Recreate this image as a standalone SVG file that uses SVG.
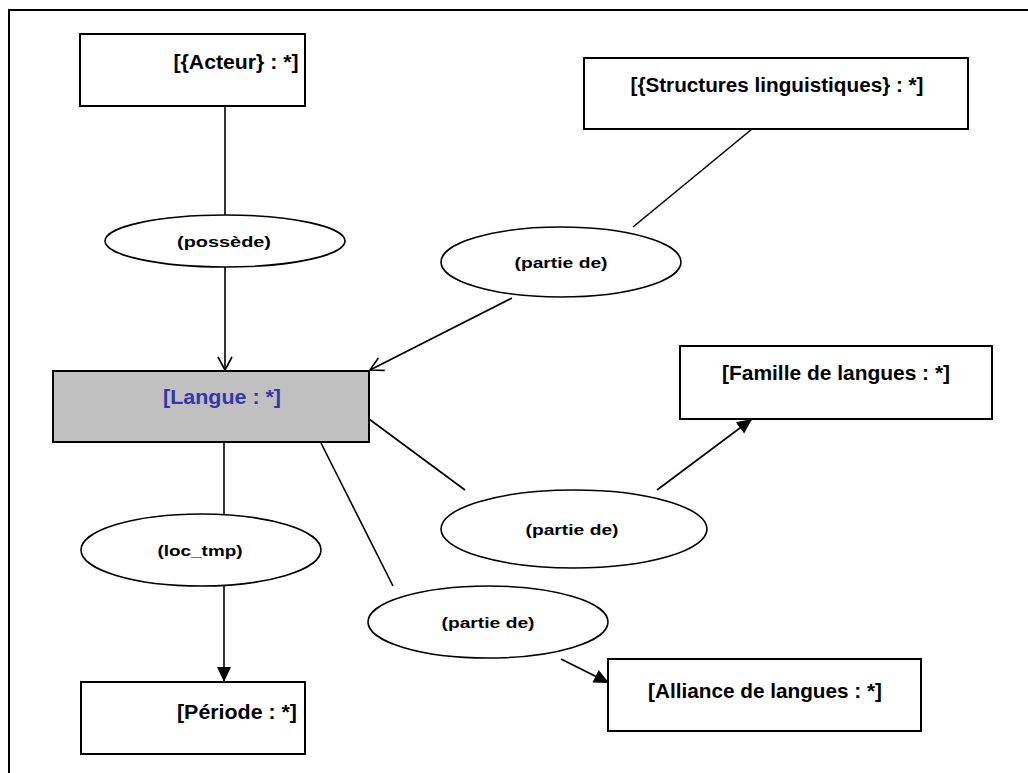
<svg xmlns="http://www.w3.org/2000/svg" width="1028" height="773" viewBox="0 0 1028 773">
<style>
.box{fill:#fff;stroke:#000;stroke-width:2}
.ell{fill:#fff;stroke:#000;stroke-width:1.6}
.t{font-family:"Liberation Sans",Arial,sans-serif;font-weight:bold;font-size:20px;fill:#000;text-anchor:middle}
.s{font-family:"Liberation Sans",Arial,sans-serif;font-weight:bold;font-size:15px;fill:#000;text-anchor:middle}
.c{stroke:#000;stroke-width:1.6;fill:none}
</style>
<defs>
<marker id="open" markerWidth="16" markerHeight="16" refX="14" refY="8" orient="auto" markerUnits="userSpaceOnUse">
<path d="M1,1 L14,8 L1,15" fill="none" stroke="#000" stroke-width="1.6"/>
</marker>
<marker id="fill" markerWidth="16" markerHeight="16" refX="15" refY="7" orient="auto" markerUnits="userSpaceOnUse">
<path d="M0,0 L15,7 L0,14 Z" fill="#000"/>
</marker>
</defs>
<rect width="1028" height="773" fill="#fff"/>
<path d="M9,773 V10 H1030" fill="none" stroke="#000" stroke-width="2"/>

<g id="connectors">
<line class="c" x1="225" y1="106" x2="225" y2="232"/>
<line class="c" x1="225" y1="266" x2="225" y2="370" marker-end="url(#open)"/>
<line class="c" x1="752" y1="129" x2="633" y2="227"/>
<line class="c" x1="512" y1="298" x2="370" y2="370" marker-end="url(#open)"/>
<line class="c" x1="369" y1="419" x2="465" y2="490"/>
<line class="c" x1="657" y1="490" x2="752" y2="419" marker-end="url(#fill)"/>
<line class="c" x1="321" y1="443" x2="393" y2="586"/>
<line class="c" x1="561" y1="659" x2="609" y2="683" marker-end="url(#fill)"/>
<line class="c" x1="224" y1="443" x2="224" y2="514"/>
<line class="c" x1="224" y1="586" x2="224" y2="682" marker-end="url(#fill)"/>
</g>

<g id="acteur">
<rect class="box" x="80" y="34" width="225" height="72"/>
<text class="t" x="236" y="69" textLength="125" lengthAdjust="spacingAndGlyphs">[{Acteur} : *]</text>
</g>
<g id="structures">
<rect class="box" x="584" y="58" width="384" height="71"/>
<text class="t" x="777" y="92" textLength="293" lengthAdjust="spacingAndGlyphs">[{Structures linguistiques} : *]</text>
</g>
<g id="langue">
<rect x="53" y="371" width="316" height="71" fill="#c0c0c0" stroke="#000" stroke-width="2"/>
<text class="t" x="222" y="404" textLength="118" lengthAdjust="spacingAndGlyphs" style="fill:#3535a8">[Langue : *]</text>
</g>
<g id="famille">
<rect class="box" x="680" y="346" width="312" height="73"/>
<text class="t" x="836" y="380" textLength="228" lengthAdjust="spacingAndGlyphs">[Famille de langues : *]</text>
</g>
<g id="periode">
<rect class="box" x="81" y="682" width="224" height="72"/>
<text class="t" x="237" y="719" textLength="120" lengthAdjust="spacingAndGlyphs">[Période : *]</text>
</g>
<g id="alliance">
<rect class="box" x="608" y="659" width="313" height="72"/>
<text class="t" x="765" y="698" textLength="234" lengthAdjust="spacingAndGlyphs">[Alliance de langues : *]</text>
</g>
<g id="possede">
<ellipse class="ell" cx="225" cy="241" rx="120" ry="26"/>
<text class="s" x="224" y="247" textLength="94" lengthAdjust="spacingAndGlyphs">(possède)</text>
</g>
<g id="partie1">
<ellipse class="ell" cx="561" cy="262" rx="120" ry="35"/>
<text class="s" x="561" y="268" textLength="93" lengthAdjust="spacingAndGlyphs">(partie de)</text>
</g>
<g id="partie2">
<ellipse class="ell" cx="574" cy="529" rx="133" ry="39"/>
<text class="s" x="572" y="535" textLength="93" lengthAdjust="spacingAndGlyphs">(partie de)</text>
</g>
<g id="partie3">
<ellipse class="ell" cx="488" cy="622" rx="120" ry="36"/>
<text class="s" x="488" y="628" textLength="93" lengthAdjust="spacingAndGlyphs">(partie de)</text>
</g>
<g id="loctmp">
<ellipse class="ell" cx="201" cy="550" rx="120" ry="36"/>
<text class="s" x="200" y="556" textLength="85" lengthAdjust="spacingAndGlyphs">(loc_tmp)</text>
</g>
</svg>
